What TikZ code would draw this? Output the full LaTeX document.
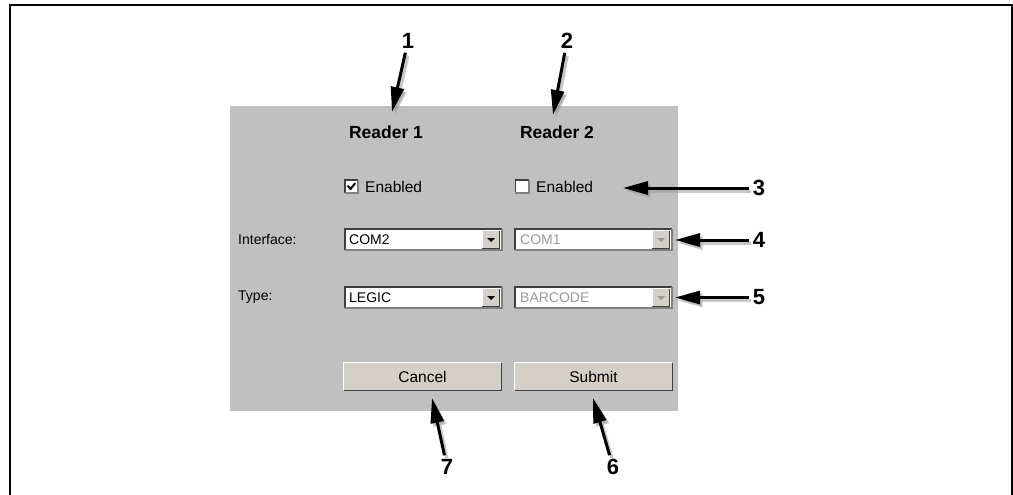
\documentclass[tikz,border=0pt]{standalone}
\usepackage{fontspec}
\setmainfont{Liberation Sans}
\usetikzlibrary{arrows.meta}

\definecolor{panelgrey}{HTML}{C0C0C0}
\definecolor{btnface}{HTML}{D4D0C8}
\definecolor{midedge}{HTML}{808080}
\definecolor{darkedge}{HTML}{404040}
\definecolor{greytext}{HTML}{9A9A9A}

% bevel helpers for the classic widget look
\newcommand{\raisededge}[1]{%
  \draw[white, line width=1pt] (#1.south west) -- (#1.north west) -- (#1.north east);
  \draw[darkedge, line width=1pt] (#1.north east) -- (#1.south east) -- (#1.south west);
}
\newcommand{\sunkenedge}[1]{%
  \draw[darkedge, line width=1.6pt] (#1.south west) -- (#1.north west) -- (#1.north east);
  \draw[midedge, line width=1.6pt] (#1.north east) -- (#1.south east) -- (#1.south west);
}
\newcommand{\droptri}[2]{%
  \fill[#2] ([xshift=-4pt,yshift=1.5pt]#1.center) -- ([xshift=4pt,yshift=1.5pt]#1.center)
        -- ([yshift=-2.5pt]#1.center) -- cycle;
}
\newcommand{\callout}[2]{%
  \draw[calloutshadow] (#1) -- (#2);
  \draw[calloutarrow] (#1) -- (#2);
}

\begin{document}
\begin{tikzpicture}[x=1pt, y=-1pt,
  calloutarrow/.style={line width=3pt, black, shorten <=3pt,
    -{Triangle[length=25pt, width=13pt]}},
  calloutshadow/.style={calloutarrow, black!40, opacity=0.55,
    transform canvas={shift={(2.5,3)}}},
  numlabel/.style={font=\fontsize{22}{24}\selectfont\bfseries, inner sep=1pt},
  heading/.style={font=\fontsize{17.5}{20}\selectfont\bfseries, inner sep=0pt},
  formtext/.style={font=\fontsize{14}{16}\selectfont, inner sep=0pt, anchor=west},
  combo/.style={fill=white, minimum width=157pt, minimum height=21pt, inner sep=0pt},
  dropbtn/.style={fill=btnface, minimum width=17pt, minimum height=17pt, inner sep=0pt},
  pushbtn/.style={fill=btnface, minimum width=157pt, minimum height=27pt, inner sep=0pt,
    font=\fontsize{15.5}{18}\selectfont},
  chkbox/.style={fill=white, minimum size=13pt, inner sep=0pt},
]
\useasboundingbox (0,0) rectangle (1013,495);
\fill[white] (0,0) rectangle (1013,495);

% outer frame (open at the bottom)
\draw[line width=2pt] (10,495) -- (10,5) -- (1011.5,5) -- (1011.5,495);

% dialog panel
\fill[panelgrey] (230,106) rectangle (678,411);

% column headings
\node[heading] (r1) at (386,132) {Reader 1};
\node[heading] (r2) at (557,132) {Reader 2};

% enable check boxes
\node[chkbox] (cb1) at (351.5,186.5) {};
\sunkenedge{cb1}
\draw[line width=2pt, line cap=round, line join=round]
  ([xshift=-3.5pt,yshift=0.5pt]cb1.center) -- ([xshift=-1pt,yshift=-2.5pt]cb1.center)
  -- ([xshift=3.5pt,yshift=3pt]cb1.center);
\node[formtext, font=\fontsize{15.5}{18}\selectfont] (en1) at (365,186.5) {Enabled};

\node[chkbox] (cb2) at (522,186.5) {};
\sunkenedge{cb2}
\node[formtext, font=\fontsize{15.5}{18}\selectfont] (en2) at (536,186.5) {Enabled};

% row labels
\node[formtext] (lif) at (238,239.5) {Interface:};
\node[formtext] (lty) at (238,297.5) {Type:};

% interface selectors
\node[combo] (cif1) at (423.5,239.5) {};
\sunkenedge{cif1}
\node[formtext] (tif1) at (349,239.5) {COM2};
\node[dropbtn, anchor=east] (bif1) at ([xshift=-2.5pt]cif1.east) {};
\raisededge{bif1}
\droptri{bif1}{black}

\node[combo] (cif2) at (593.5,239.5) {};
\sunkenedge{cif2}
\node[formtext, text=greytext] (tif2) at (520,239.5) {COM1};
\node[dropbtn, anchor=east] (bif2) at ([xshift=-2.5pt]cif2.east) {};
\raisededge{bif2}
\droptri{bif2}{greytext}

% type selectors
\node[combo] (cty1) at (423.5,297.5) {};
\sunkenedge{cty1}
\node[formtext] (tty1) at (349,297.5) {LEGIC};
\node[dropbtn, anchor=east] (bty1) at ([xshift=-2.5pt]cty1.east) {};
\raisededge{bty1}
\droptri{bty1}{black}

\node[combo] (cty2) at (593.5,297.5) {};
\sunkenedge{cty2}
\node[formtext, text=greytext] (tty2) at (520,297.5) {BARCODE};
\node[dropbtn, anchor=east] (bty2) at ([xshift=-2.5pt]cty2.east) {};
\raisededge{bty2}
\droptri{bty2}{greytext}

% push buttons
\node[pushbtn] (cancel) at (422.5,376.5) {Cancel};
\raisededge{cancel}
\node[pushbtn] (submit) at (593.5,376.5) {Submit};
\raisededge{submit}

% callout numbers
\node[numlabel] (n1) at (408,41) {1};
\node[numlabel] (n2) at (567,41) {2};
\node[numlabel] (n3) at (759,188) {3};
\node[numlabel] (n4) at (759,240) {4};
\node[numlabel] (n5) at (759,297.5) {5};
\node[numlabel] (n6) at (613,467) {6};
\node[numlabel] (n7) at (447,467) {7};

% callout tips
\coordinate (t1) at (392,112);
\coordinate (t2) at (553,115);
\coordinate (t3) at (623,188);
\coordinate (t4) at (675,240);
\coordinate (t5) at (675,297.5);
\coordinate (t6) at (593,398);
\coordinate (t7) at (432,398);

\callout{n1}{t1}
\callout{n2}{t2}
\callout{n3}{t3}
\callout{n4}{t4}
\callout{n5}{t5}
\callout{n6}{t6}
\callout{n7}{t7}
\end{tikzpicture}
\end{document}
